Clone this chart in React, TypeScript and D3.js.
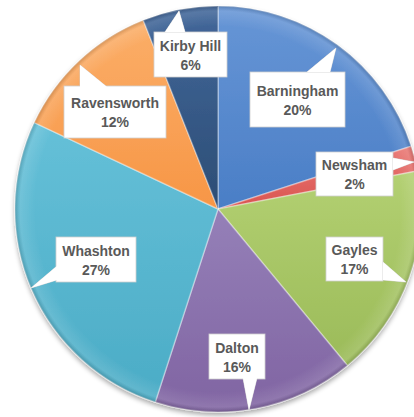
import React from "react";
import * as d3 from "d3";

const names = ["Barningham", "Newsham", "Gayles", "Dalton", "Whashton", "Ravensworth", "Kirby Hill"];
const values = [20, 2, 17, 16, 27, 12, 6];
const baseColors = ["#4a7ec6", "#d9534f", "#9bbb59", "#8064a2", "#4bacc6", "#f79646", "#2c4d75"];
const lightColors = ["#6796d6", "#ea7a76", "#b3d072", "#9580b8", "#65c0d8", "#fbae68", "#42679a"];

// label layout: box [x, y, w, h], pointer [base1, tip, base2]
const labelLayout: Record<string, { box: number[]; ptr: number[][] }> = {
  "Kirby Hill": { box: [154, 32, 73, 45], ptr: [[165, 32], [179, 11], [185, 32]] },
  Barningham: { box: [250, 72, 95, 55], ptr: [[307, 72], [336, 48], [330, 72]] },
  Newsham: { box: [316, 152, 77, 44], ptr: [[393, 158], [414, 162], [393, 170]] },
  Gayles: { box: [326, 237, 57, 44], ptr: [[383, 262], [406, 282], [383, 280]] },
  Dalton: { box: [209, 334, 56, 45], ptr: [[243, 378], [249, 410], [257, 378]] },
  Whashton: { box: [56, 237, 80, 45], ptr: [[57, 266], [31, 288], [57, 280]] },
  Ravensworth: { box: [64, 86, 102, 52], ptr: [[80, 87], [80, 65], [107, 87]] },
};

export default function App() {
  const W = 414, H = 417;
  const cx = 218, cy = 209, R = 203;
  const pie = d3.pie<number>().sort(null).value((d) => d);
  const arcs = pie(values);
  const arc = d3.arc<d3.PieArcDatum<number>>().innerRadius(0).outerRadius(R);
  const total = d3.sum(values);

  return (
    <svg width={W} height={H} style={{ position: "absolute", left: 0, top: 0, background: "#fff" }}>
      <defs>
        {names.map((n, i) => (
          <linearGradient key={n} id={`g${i}`} x1="0" y1="0" x2="0" y2="1">
            <stop offset="0" stopColor={lightColors[i]} />
            <stop offset="1" stopColor={baseColors[i]} />
          </linearGradient>
        ))}
        <radialGradient id="rim" cx="0.5" cy="0.5" r="0.5">
          <stop offset="0.9" stopColor="#fff" stopOpacity="0" />
          <stop offset="0.975" stopColor="#fff" stopOpacity="0.12" />
          <stop offset="1" stopColor="#000" stopOpacity="0.15" />
        </radialGradient>
        <filter id="shadow" x="-10%" y="-10%" width="120%" height="120%">
          <feGaussianBlur in="SourceAlpha" stdDeviation="2.5" />
          <feOffset dx="0" dy="3" result="b" />
          <feComponentTransfer><feFuncA type="linear" slope="0.35" /></feComponentTransfer>
          <feMerge><feMergeNode /><feMergeNode in="SourceGraphic" /></feMerge>
        </filter>
      </defs>
      <g transform={`translate(${cx},${cy})`} filter="url(#shadow)">
        {arcs.map((a, i) => (
          <path key={names[i]} d={arc(a) || ""} fill={`url(#g${i})`} stroke="#ffffff" strokeOpacity={0.35} strokeWidth={1.5} />
        ))}
        <circle r={R} fill="url(#rim)" />
      </g>
      <g fontFamily="'Liberation Sans', Arial, sans-serif" fontWeight="bold" fontSize={14} fill="#595959">
        {names.map((n, i) => {
          const L = labelLayout[n];
          const [x, y, w, h] = L.box;
          const pct = Math.round((values[i] / total) * 100) + "%";
          const p = L.ptr;
          return (
            <g key={n}>
              <path
                d={`M${p[0][0]},${p[0][1]}L${p[1][0]},${p[1][1]}L${p[2][0]},${p[2][1]}Z`}
                fill="#fff"
                stroke="#d0d0d0"
                strokeWidth={0.8}
              />
              <rect x={x} y={y} width={w} height={h} fill="#fff" stroke="#d0d0d0" strokeWidth={0.8} />
              <path
                d={`M${p[0][0]},${p[0][1]}L${p[1][0]},${p[1][1]}L${p[2][0]},${p[2][1]}`}
                fill="#fff"
                stroke="none"
              />
              <text x={x + w / 2} y={y + h / 2 - 4} textAnchor="middle">{n}</text>
              <text x={x + w / 2} y={y + h / 2 + 15} textAnchor="middle">{pct}</text>
            </g>
          );
        })}
      </g>
    </svg>
  );
}
